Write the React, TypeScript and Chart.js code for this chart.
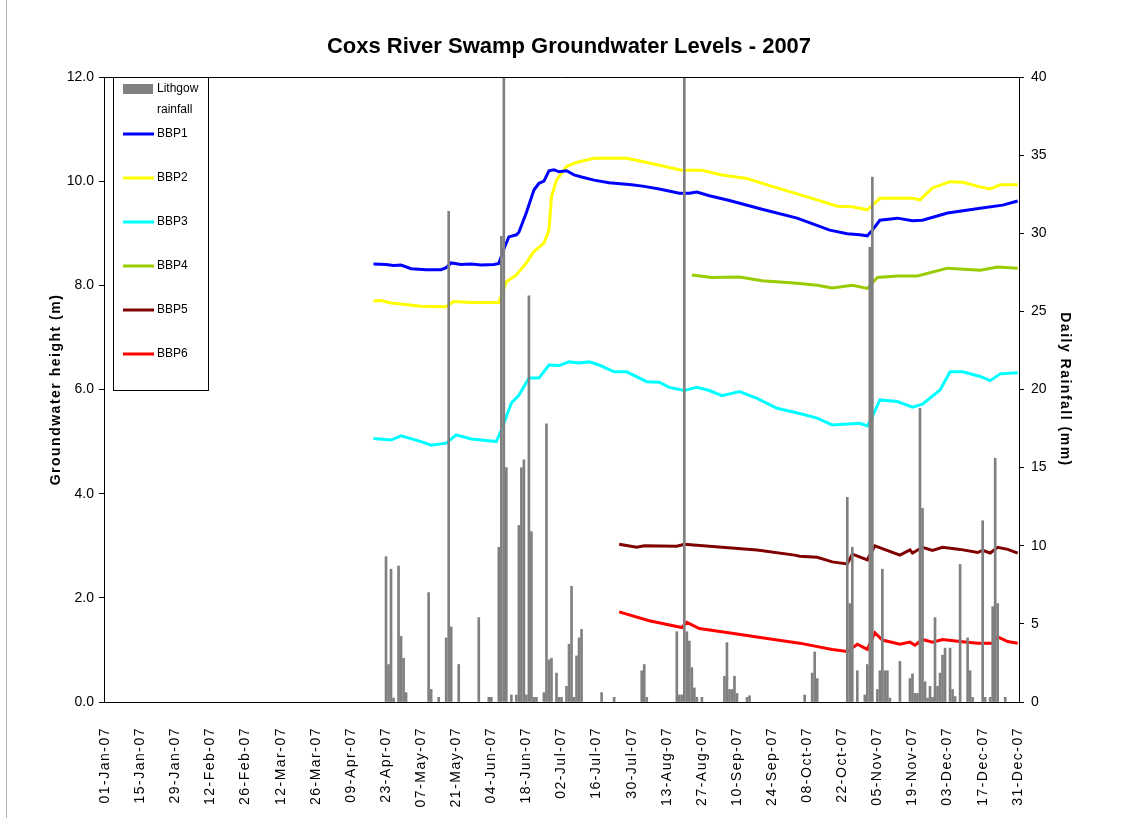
import React, { useEffect, useRef } from 'react';
import { Chart, registerables } from 'chart.js';

Chart.register(...registerables);

// ---- axis ticks (day of year, 0 = 01-Jan-07) ----
const tickDays = [0, 14, 28, 42, 56, 70, 84, 98, 112, 126, 140, 154, 168, 182, 196, 210, 224, 238, 252, 266, 280, 294, 308, 322, 336, 350, 364];
const tickLabels = ['01-Jan-07', '15-Jan-07', '29-Jan-07', '12-Feb-07', '26-Feb-07', '12-Mar-07', '26-Mar-07', '09-Apr-07', '23-Apr-07', '07-May-07', '21-May-07', '04-Jun-07', '18-Jun-07', '02-Jul-07', '16-Jul-07', '30-Jul-07', '13-Aug-07', '27-Aug-07', '10-Sep-07', '24-Sep-07', '08-Oct-07', '22-Oct-07', '05-Nov-07', '19-Nov-07', '03-Dec-07', '17-Dec-07', '31-Dec-07'];

// ---- Lithgow daily rainfall (mm) ----
const rainDays = [112, 113, 114, 115, 117, 118, 119, 120, 129, 130, 133, 136, 137, 138, 141, 149, 153, 154, 157, 158, 159, 160, 162, 164, 165, 166, 167, 168, 169, 170, 171, 172, 175, 176, 177, 178, 180, 181, 182, 184, 185, 186, 187, 188, 189, 190, 198, 203, 214, 215, 216, 228, 229, 230, 231, 232, 233, 234, 235, 236, 238, 247, 248, 249, 250, 251, 252, 256, 257, 279, 282, 283, 284, 296, 297, 298, 300, 303, 304, 305, 306, 308, 309, 310, 311, 312, 313, 317, 321, 322, 323, 324, 325, 326, 327, 328, 329, 330, 331, 332, 333, 334, 335, 337, 338, 339, 341, 344, 345, 346, 350, 351, 353, 354, 355, 356, 359];
const rainMm = [9.3, 2.4, 8.5, 0.25, 8.7, 4.2, 2.8, 0.6, 7.0, 0.8, 0.3, 4.1, 31.4, 4.8, 2.4, 5.4, 0.3, 0.3, 9.9, 29.8, 44, 15.0, 0.45, 0.45, 11.3, 15.0, 15.5, 0.45, 26.0, 10.9, 0.3, 0.3, 0.6, 17.8, 2.7, 2.8, 1.85, 0.3, 0.3, 1.0, 3.7, 7.4, 0.3, 2.95, 4.1, 4.65, 0.6, 0.3, 2.0, 2.4, 0.3, 4.5, 0.45, 0.45, 42, 4.5, 3.9, 2.2, 0.9, 0.3, 0.3, 1.65, 3.8, 0.8, 0.8, 1.65, 0.55, 0.3, 0.4, 0.45, 1.85, 3.2, 1.5, 13.1, 6.3, 9.9, 2.0, 0.45, 2.4, 29.1, 33.6, 0.8, 2.0, 8.5, 2.0, 2.0, 0.25, 2.6, 1.5, 1.8, 0.55, 0.55, 18.8, 12.4, 1.3, 0.25, 1.0, 0.3, 5.4, 1.0, 1.85, 3.0, 3.45, 3.45, 0.8, 0.35, 8.8, 4.1, 2.0, 0.3, 11.6, 0.3, 0.3, 6.1, 15.6, 6.3, 0.3];

// ---- groundwater levels (m) ----
const bbp1Days = [107, 112, 115, 118, 122, 128, 134, 136, 138, 142, 146, 150, 155, 157, 159, 161, 164, 165, 168, 171, 173, 175, 177, 179, 181, 184, 187, 190, 195, 201, 210, 215, 221, 229, 233, 236, 241, 249, 262, 276, 289, 296, 301, 304, 306, 309, 316, 322, 326, 336, 349, 358, 364];
const bbp1Levels = [8.41, 8.40, 8.38, 8.39, 8.32, 8.30, 8.30, 8.34, 8.43, 8.40, 8.41, 8.39, 8.40, 8.42, 8.70, 8.93, 8.97, 9.02, 9.40, 9.83, 9.96, 10.00, 10.20, 10.22, 10.18, 10.20, 10.12, 10.08, 10.02, 9.97, 9.93, 9.90, 9.85, 9.77, 9.77, 9.79, 9.72, 9.63, 9.46, 9.29, 9.06, 8.99, 8.97, 8.95, 9.06, 9.25, 9.29, 9.24, 9.25, 9.39, 9.48, 9.54, 9.62];

const bbp2Days = [107, 110, 114, 126, 136, 139, 146, 157, 160, 164, 168, 171, 175, 177, 178, 180, 184, 188, 195, 208, 217, 230, 238, 246, 256, 264, 273, 282, 292, 298, 304, 309, 322, 325, 330, 337, 342, 349, 353, 357, 364];
const bbp2Levels = [7.70, 7.71, 7.66, 7.60, 7.59, 7.69, 7.67, 7.67, 8.07, 8.20, 8.43, 8.65, 8.81, 9.06, 9.70, 10.02, 10.28, 10.36, 10.44, 10.44, 10.35, 10.21, 10.21, 10.12, 10.05, 9.93, 9.80, 9.67, 9.52, 9.51, 9.45, 9.67, 9.67, 9.64, 9.87, 9.99, 9.98, 9.89, 9.85, 9.93, 9.93];

const bbp3Days = [107, 114, 118, 126, 130, 136, 140, 146, 156, 158, 162, 165, 169, 173, 177, 181, 185, 189, 193, 197, 203, 208, 216, 221, 225, 231, 236, 241, 246, 253, 260, 268, 277, 284, 290, 301, 304, 306, 309, 316, 322, 326, 333, 337, 342, 349, 353, 357, 364];
const bbp3Levels = [5.06, 5.03, 5.11, 5.00, 4.93, 4.97, 5.13, 5.05, 5.00, 5.22, 5.74, 5.89, 6.22, 6.22, 6.47, 6.46, 6.53, 6.51, 6.53, 6.47, 6.34, 6.34, 6.15, 6.14, 6.04, 5.98, 6.04, 5.98, 5.88, 5.96, 5.83, 5.64, 5.54, 5.45, 5.32, 5.35, 5.30, 5.48, 5.80, 5.77, 5.66, 5.72, 5.99, 6.34, 6.34, 6.25, 6.17, 6.30, 6.32];

const bbp4Days = [234, 242, 253, 262, 276, 284, 290, 298, 304, 308, 316, 324, 336, 349, 356, 364];
const bbp4Levels = [8.20, 8.15, 8.16, 8.09, 8.04, 8.00, 7.95, 8.00, 7.94, 8.15, 8.18, 8.18, 8.33, 8.29, 8.35, 8.33];

const bbp5Days = [205, 212, 215, 228, 231, 241, 260, 275, 277, 284, 290, 296, 298, 304, 307, 317, 321, 322, 326, 330, 334, 341, 348, 350, 353, 356, 360, 364];
const bbp5Levels = [3.03, 2.97, 3.00, 2.99, 3.03, 2.99, 2.92, 2.82, 2.80, 2.78, 2.69, 2.65, 2.84, 2.73, 3.00, 2.82, 2.92, 2.86, 2.97, 2.91, 2.97, 2.93, 2.87, 2.91, 2.86, 2.97, 2.93, 2.86];

const bbp6Days = [205, 217, 230, 232, 237, 250, 264, 277, 290, 296, 300, 304, 307, 310, 317, 321, 323, 326, 330, 334, 341, 348, 354, 356, 360, 364];
const bbp6Levels = [1.73, 1.56, 1.43, 1.53, 1.41, 1.32, 1.22, 1.13, 1.01, 0.97, 1.11, 1.01, 1.33, 1.19, 1.11, 1.15, 1.09, 1.20, 1.15, 1.20, 1.16, 1.13, 1.13, 1.25, 1.16, 1.13];

const seriesNames = ['BBP1', 'BBP2', 'BBP3', 'BBP4', 'BBP5', 'BBP6'];
const seriesColors = ['#0000FF', '#FFFF00', '#00FFFF', '#99CC00', '#800000', '#FF0000'];
const seriesDays = [bbp1Days, bbp2Days, bbp3Days, bbp4Days, bbp5Days, bbp6Days];
const seriesLevels = [bbp1Levels, bbp2Levels, bbp3Levels, bbp4Levels, bbp5Levels, bbp6Levels];

const FONT = '"Liberation Sans", Arial, Helvetica, sans-serif';

const spacingPlugin = {
  id: 'letterSpacingPatch',
  beforeDraw(chart: any) {
    const patch = (scale: any, method: string, spacing: string) => {
      if (!scale || scale['__patched_' + method]) return;
      const orig = scale[method].bind(scale);
      scale[method] = (...args: any[]) => {
        const ctx = chart.ctx;
        ctx.save();
        (ctx as any).letterSpacing = spacing;
        orig(...args);
        ctx.restore();
      };
      scale['__patched_' + method] = true;
    };
    patch(chart.scales.x, 'drawLabels', '1.5px');
    patch(chart.scales.y, 'drawTitle', '1.5px');
    patch(chart.scales.y1, 'drawTitle', '1.5px');
  },
};

const framePlugin = {
  id: 'frameAndLegend',
  afterDraw(chart: any) {
    const ctx = chart.ctx;
    const a = chart.chartArea;
    ctx.save();
    // outer chart frame edge (left)
    ctx.strokeStyle = '#b4b4b4';
    ctx.lineWidth = 1;
    ctx.beginPath();
    ctx.moveTo(6.5, 0);
    ctx.lineTo(6.5, chart.height);
    ctx.stroke();

    // top border of plot area
    ctx.strokeStyle = '#000';
    ctx.lineWidth = 1;
    ctx.beginPath();
    ctx.moveTo(a.left, Math.round(a.top) + 0.5);
    ctx.lineTo(a.right, Math.round(a.top) + 0.5);
    ctx.stroke();

    // legend box
    const bx = a.left + 9;
    const by = a.top;
    const bw = 95;
    const bh = 313;
    ctx.fillStyle = '#fff';
    ctx.fillRect(bx, by, bw, bh);
    ctx.strokeStyle = '#000';
    ctx.strokeRect(bx + 0.5, by + 0.5, bw, bh);

    ctx.font = '12px ' + FONT;
    ctx.textBaseline = 'middle';
    ctx.textAlign = 'left';
    const ds = chart.data.datasets;
    // rainfall entry
    ctx.fillStyle = ds[0].backgroundColor;
    ctx.fillRect(bx + 10, by + 7, 30, 10);
    ctx.fillStyle = '#000';
    const words = String(ds[0].label).split(' ');
    words.forEach((w: string, i: number) => ctx.fillText(w, bx + 44, by + 12 + i * 21));
    for (let i = 1; i < ds.length; i++) {
      const cy = by + 57 + (i - 1) * 44;
      ctx.strokeStyle = ds[i].borderColor;
      ctx.lineWidth = 3;
      ctx.beginPath();
      ctx.moveTo(bx + 10, cy);
      ctx.lineTo(bx + 41, cy);
      ctx.stroke();
      ctx.fillStyle = '#000';
      ctx.fillText(ds[i].label, bx + 44, cy);
    }
    ctx.restore();
  },
};

export default function App() {
  const ref = useRef<HTMLCanvasElement | null>(null);

  useEffect(() => {
    document.body.style.margin = '0';
    Chart.defaults.font.family = FONT;
    Chart.defaults.color = '#000';
    const lineSets = seriesNames.map((name, i) => ({
      type: 'line' as const,
      label: name,
      data: seriesDays[i].map((d, j) => ({ x: d, y: seriesLevels[i][j] })),
      borderColor: seriesColors[i],
      backgroundColor: seriesColors[i],
      borderWidth: 3,
      pointRadius: 0,
      tension: 0,
      yAxisID: 'y',
    }));
    const chart = new Chart(ref.current as HTMLCanvasElement, {
      type: 'bar',
      data: {
        datasets: [
          {
            type: 'bar' as const,
            label: 'Lithgow rainfall',
            data: rainDays.map((d, i) => ({ x: d, y: rainMm[i] })),
            backgroundColor: '#808080',
            borderWidth: 0,
            barThickness: 2,
            yAxisID: 'y1',
          } as any,
          ...lineSets,
        ],
      },
      options: {
        responsive: false,
        animation: false,
        devicePixelRatio: 1,
        layout: { padding: { left: 15, right: 0, top: 0, bottom: 0 } },
        plugins: {
          legend: { display: false },
          tooltip: { enabled: false },
          title: {
            display: true,
            text: 'Coxs River Swamp Groundwater Levels - 2007',
            font: { size: 22, weight: 'bold', family: FONT },
            color: '#000',
            padding: { top: 34, bottom: 16.6 },
          },
        },
        scales: {
          x: {
            type: 'linear',
            offset: false,
            min: -0.5,
            max: 364.5,
            afterBuildTicks: (s: any) => {
              s.ticks = tickDays.map((v) => ({ value: v }));
            },
            afterFit: (s: any) => {
              s.height = 116;
            },
            ticks: {
              autoSkip: false,
              minRotation: 90,
              maxRotation: 90,
              padding: 17,
              color: '#000',
              font: { size: 14, family: FONT },
              callback: (v: any) => {
                const i = tickDays.indexOf(Number(v));
                return i >= 0 ? tickLabels[i] : '';
              },
            },
            grid: { display: false, offset: false },
            border: { display: true, color: '#000', width: 1 },
          },
          y: {
            type: 'linear',
            position: 'left',
            min: 0,
            max: 12,
            afterFit: (s: any) => {
              s.width = 89;
            },
            ticks: {
              stepSize: 2,
              padding: 5,
              color: '#000',
              font: { size: 14, family: FONT },
              callback: (v: any) => Number(v).toFixed(1),
            },
            grid: { display: true, drawOnChartArea: false, tickLength: 5, color: '#000' },
            border: { display: true, color: '#000', width: 1 },
            title: {
              display: true,
              text: 'Groundwater height (m)',
              color: '#000',
              font: { size: 14, weight: 'bold', family: FONT },
              padding: { top: 33, bottom: 0 },
            },
          },
          y1: {
            type: 'linear',
            position: 'right',
            min: 0,
            max: 40,
            afterFit: (s: any) => {
              s.width = 104;
            },
            ticks: {
              stepSize: 5,
              padding: 7,
              color: '#000',
              font: { size: 14, family: FONT },
              callback: (v: any) => String(v),
            },
            grid: { display: true, drawOnChartArea: false, tickLength: 5, color: '#000' },
            border: { display: true, color: '#000', width: 1 },
            title: {
              display: true,
              text: 'Daily Rainfall (mm)',
              color: '#000',
              font: { size: 14, weight: 'bold', family: FONT },
              padding: { top: 50, bottom: 0 },
            },
          },
        },
      } as any,
      plugins: [spacingPlugin, framePlugin],
    });
    return () => chart.destroy();
  }, []);

  return (
    <div style={{ width: 1123, height: 818 }}>
      <canvas ref={ref} width={1123} height={818} style={{ display: 'block' }} />
    </div>
  );
}
